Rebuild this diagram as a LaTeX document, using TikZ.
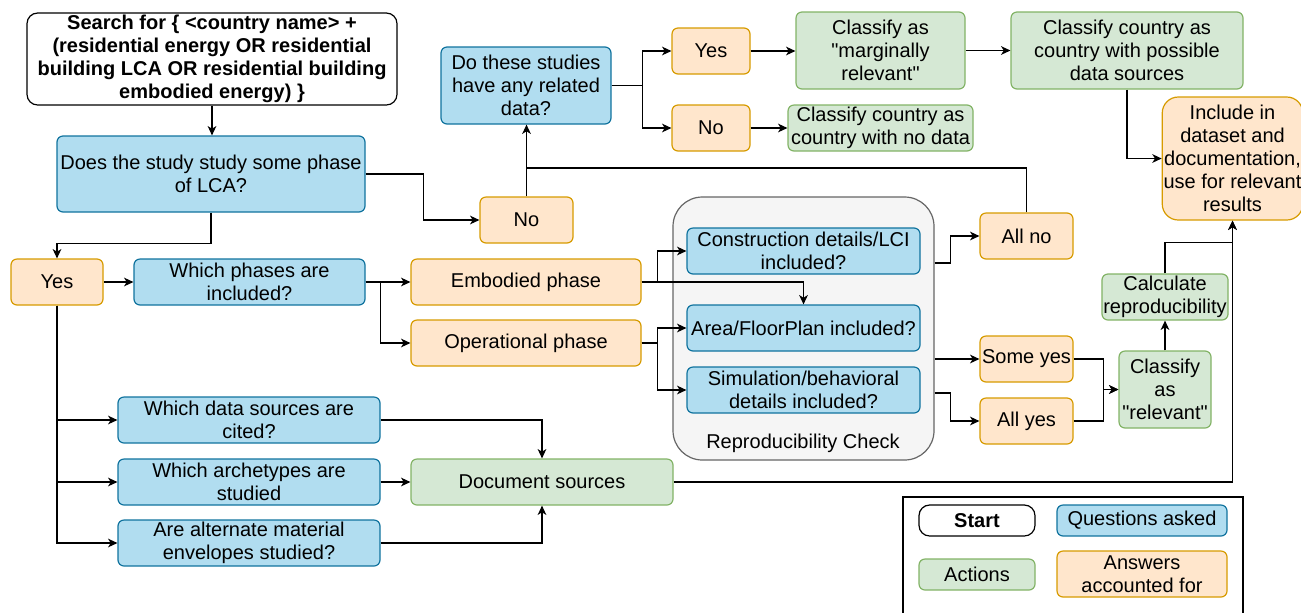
\documentclass[tikz,border=0pt]{standalone}
\usepackage{fontspec}
\setmainfont{Liberation Sans}[Ligatures=TeXOff]
\usetikzlibrary{arrows.meta,calc}

\definecolor{bluefill}{HTML}{B1DDF0}
\definecolor{blueline}{HTML}{10739E}
\definecolor{orangefill}{HTML}{FFE6CC}
\definecolor{orangeline}{HTML}{D79B00}
\definecolor{greenfill}{HTML}{D5E8D4}
\definecolor{greenline}{HTML}{82B366}
\definecolor{grayfill}{HTML}{F5F5F5}
\definecolor{grayline}{HTML}{666666}

% box from corner (x1,y1) to corner (x2,y2), in pixel units
\newcommand{\bx}[7]{%
  \pgfmathsetmacro{\bxcx}{(#2+#4)/2}%
  \pgfmathsetmacro{\bxcy}{(#3+#5)/2}%
  \pgfmathsetmacro{\bxw}{(#4-#2)*0.75}%
  \pgfmathsetmacro{\bxh}{(#5-#3)*0.75}%
  \node[#6, minimum width=\bxw pt, minimum height=\bxh pt] (#1) at (\bxcx,\bxcy) {#7};%
}

\begin{document}
\begin{tikzpicture}[x=0.75pt,y=-0.75pt,
  base/.style={draw, line width=0.9pt, rounded corners=4.5pt, inner sep=1pt,
    align=center, font=\fontsize{15}{17.25}\selectfont},
  startbox/.style={base, draw=black, fill=white, rounded corners=8pt,
    font=\fontsize{15}{17.25}\selectfont\bfseries},
  qbox/.style={base, draw=blueline, fill=bluefill},
  abox/.style={base, draw=orangeline, fill=orangefill},
  actbox/.style={base, draw=greenline, fill=greenfill},
  chkbox/.style={draw=grayline, fill=grayfill, line width=0.9pt, rounded corners=22pt, inner sep=0pt},
  arr/.style={draw=black, line width=1pt, -{Stealth[length=7pt,width=6.5pt,inset=2pt]}},
  ln/.style={draw=black, line width=1pt},
  lbl/.style={font=\fontsize{15}{17.25}\selectfont}
]
\useasboundingbox (0,0) rectangle (1301,612);

% reproducibility container
\bx{chk}{673}{197}{934}{460}{chkbox}{}
\node[lbl] (chklbl) at (803,443) {Reproducibility Check};

% nodes
\bx{start}{27}{13}{397}{105}{startbox}{Search for \{ <country name> +\\(residential energy OR residential\\building LCA OR residential building\\embodied energy) \}}
\bx{q1}{57}{136}{365}{212}{qbox}{Does the study study some phase\\of LCA?}
\bx{yes1}{11}{259}{103}{305}{abox}{Yes}
\bx{phases}{134}{259}{365}{305}{qbox}{Which phases are\\included?}
\bx{no1}{480}{197}{573}{243}{abox}{No}
\bx{q6}{441}{47}{611}{124}{qbox}{Do these studies\\have any related\\data?}
\bx{yes2}{672}{28}{750}{74}{abox}{Yes}
\bx{no2}{672}{105}{750}{151}{abox}{No}
\bx{marg}{796}{12}{965}{89}{actbox}{Classify as\\"marginally\\relevant"}
\bx{nodata}{788}{105}{973}{151}{actbox}{Classify country as\\country with no data}
\bx{poss}{1011}{12}{1243}{89}{actbox}{Classify country as\\country with possible\\data sources}
\bx{incl}{1165}{97}{1300}{220}{abox, rounded corners=12pt}{Include in\\dataset and\\documentation,\\use for relevant\\results}
\bx{emb}{411}{259}{641}{305}{abox}{Embodied phase}
\bx{op}{411}{320}{641}{366}{abox}{Operational phase}
\bx{cons}{687}{228}{920}{274}{qbox}{Construction details/LCI\\included?}
\bx{area}{687}{305}{920}{351}{qbox}{Area/FloorPlan included?}
\bx{sim}{687}{367}{920}{413}{qbox}{Simulation/behavioral\\details included?}
\bx{allno}{980}{213}{1073}{259}{abox}{All no}
\bx{someyes}{980}{336}{1073}{382}{abox}{Some yes}
\bx{allyes}{980}{398}{1073}{444}{abox}{All yes}
\bx{rel}{1119}{351}{1211}{428}{actbox}{Classify\\as\\"relevant"}
\bx{calc}{1103}{274}{1227}{320}{actbox}{Calculate\\reproducibility}
\bx{ds}{118}{397}{380}{443}{qbox}{Which data sources are\\cited?}
\bx{arch}{118}{459}{380}{505}{qbox}{Which archetypes are\\studied}
\bx{env}{118}{520}{380}{566}{qbox}{Are alternate material\\envelopes studied?}
\bx{doc}{411}{459}{673}{505}{actbox}{Document sources}

% legend
\draw[line width=0.8pt] (903,620) -- (903,497) -- (1243,497) -- (1243,620);
\bx{lstart}{919}{505}{1035}{536}{startbox}{Start}
\bx{lq}{1057}{505}{1227}{536}{qbox}{Questions asked}
\bx{lact}{919}{559}{1035}{590}{actbox}{Actions}
\bx{lans}{1057}{551}{1227}{597}{abox}{Answers\\accounted for}

% connectors
\draw[arr] (start.south) -- (start.south |- q1.north);
\draw[arr] (q1.south) -- ++(0,31) -| (yes1.north);
\draw[arr] (q1.east) -- ++(58,0) |- (no1.west);
\draw[arr] (no1.north) -- (no1.north |- q6.south);
\coordinate (j1) at (no1.north |- 0,168);
\draw[ln] (allno.north) |- (j1);
\draw[arr] (q6.east) -- ++(31,0) |- (yes2.west);
\draw[arr] (q6.east) -- ++(31,0) |- (no2.west);
\draw[arr] (yes2.east) -- (yes2.east -| marg.west);
\draw[arr] (no2.east) -- (nodata.west);
\draw[arr] (marg.east) -- (marg.east -| poss.west);
\draw[arr] (poss.south) |- (incl.west);

\draw[arr] (yes1.east) -- (phases.west);
\draw[arr] (phases.east) -- (emb.west);
\draw[arr] (phases.east) -- ++(15,0) |- (op.west);
\draw[arr] (emb.east) -- ++(16,0) |- (cons.west);
\draw[arr] (emb.east) -| (area.north);
\draw[arr] (op.east) -- ++(16,0) |- (area.west);
\draw[arr] (op.east) -- ++(16,0) |- (sim.west);

\draw[arr] ($(chk.east)+(0,-65.5)$) -- ++(16,0) |- (allno.west);
\draw[arr] (chk.east |- someyes.west) -- (someyes.west);
\draw[arr] ($(chk.east)+(0,64.5)$) -- ++(16,0) |- (allyes.west);
\draw[arr] (someyes.east) -- ++(30,0) |- (rel.west);
\draw[arr] (allyes.east) -- ++(30,0) |- (rel.west);
\draw[arr] (rel.north) -- (calc.south);
\draw[arr] (calc.north) -- ++(0,-31) -| (incl.south);
\draw[arr] (doc.east) -| (incl.south);

\draw[arr] (yes1.south) |- (ds.west);
\draw[arr] (yes1.south) |- (arch.west);
\draw[arr] (yes1.south) |- (env.west);
\draw[arr] (ds.east) -| (doc.north);
\draw[arr] (arch.east) -- (doc.west);
\draw[arr] (env.east) -| (doc.south);
\end{tikzpicture}
\end{document}
